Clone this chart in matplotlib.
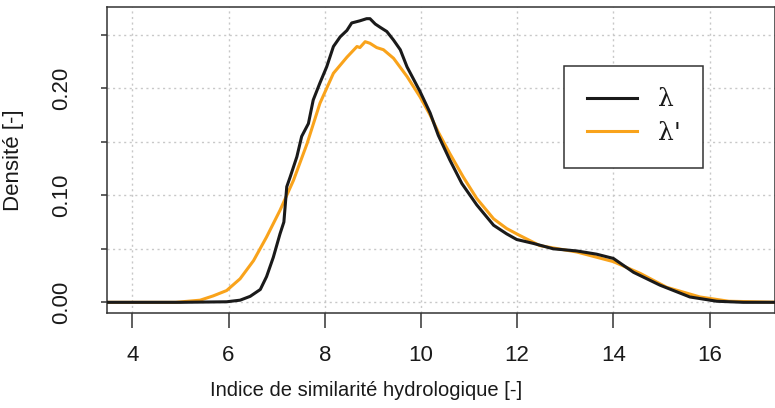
import numpy as np
import matplotlib
import matplotlib.pyplot as plt

matplotlib.use("Agg")

# densité de l'indice lambda
lam_x = [3.4, 5.0, 5.96, 6.24, 6.45, 6.66, 6.79, 6.93, 7.07, 7.15, 7.21, 7.28,
         7.42, 7.52, 7.66, 7.76, 7.90, 8.04, 8.18, 8.32, 8.46, 8.56, 8.73, 8.87,
         8.94, 9.05, 9.15, 9.29, 9.43, 9.57, 9.71, 9.98, 10.19, 10.36, 10.60,
         10.85, 11.16, 11.51, 11.78, 11.99, 12.34, 12.75, 13.24, 13.65, 14.0,
         14.42, 14.97, 15.59, 16.15, 16.7, 17.5]
lam_y = [0, 0, 0.0005, 0.002, 0.0056, 0.012, 0.024, 0.042, 0.064, 0.075, 0.108,
         0.117, 0.136, 0.155, 0.167, 0.189, 0.205, 0.220, 0.239, 0.248, 0.254,
         0.261, 0.263, 0.265, 0.265, 0.260, 0.257, 0.253, 0.245, 0.236, 0.220,
         0.197, 0.177, 0.156, 0.133, 0.111, 0.091, 0.072, 0.064, 0.0587, 0.055,
         0.050, 0.048, 0.045, 0.041, 0.028, 0.016, 0.005, 0.001, 0.0, 0.0]

# densité de lambda'
lamp_x = [3.4, 4.9, 5.41, 5.68, 5.96, 6.24, 6.52, 6.79, 7.07, 7.35, 7.63, 7.90,
          8.18, 8.46, 8.67, 8.73, 8.84, 8.94, 9.08, 9.22, 9.43, 9.71, 9.98,
          10.19, 10.36, 10.60, 10.88, 11.16, 11.51, 11.78, 12.03, 12.47, 13.24,
          14.0, 14.56, 15.11, 15.80, 16.4, 17.5]
lamp_y = [0, 0, 0.002, 0.006, 0.011, 0.022, 0.039, 0.061, 0.086, 0.114, 0.148,
          0.186, 0.214, 0.229, 0.239, 0.238, 0.2435, 0.242, 0.238, 0.236, 0.228,
          0.211, 0.192, 0.175, 0.159, 0.139, 0.117, 0.097, 0.078, 0.069, 0.063,
          0.053, 0.047, 0.038, 0.027, 0.014, 0.005, 0.001, 0]

x_ticks = [4, 6, 8, 10, 12, 14, 16]
y_ticks = [0.0, 0.05, 0.10, 0.15, 0.20, 0.25]
y_labels = ["0.00", "", "0.10", "", "0.20", ""]

plt.rcParams["font.family"] = ["Liberation Sans", "DejaVu Sans"]

fig = plt.figure(figsize=(7.75, 4.08), dpi=100)
ax = fig.add_axes([0.1385, 0.232, 0.8615, 0.7516])

grid_kw = dict(color="#c8c8c8", lw=1.0, linestyle=(0, (1.5, 2.5)), zorder=0)
for xv in x_ticks:
    ax.axvline(xv, **grid_kw)
for yv in y_ticks:
    ax.axhline(yv, **grid_kw)

ax.plot(lam_x, lam_y, color="#1a1a1a", lw=2.2, label="λ", zorder=3)
ax.plot(lamp_x, lamp_y, color="#f9a31b", lw=2.2, label="λ'", zorder=2)

ax.set_xlim(3.48, 17.36)
ax.set_ylim(-0.0103, 0.2762)
ax.set_xticks(x_ticks)
ax.set_yticks(y_ticks)
ax.set_yticklabels(y_labels, rotation=90, va="center")

for sp in ax.spines.values():
    sp.set_color("#333333")
    sp.set_linewidth(1.1)

ax.tick_params(axis="x", length=10.8, width=1.1, color="#333333", pad=12,
               labelsize=16, labelcolor="#1a1a1a")
ax.tick_params(axis="y", length=4.2, width=1.1, color="#333333", pad=21,
               labelsize=16, labelcolor="#1a1a1a")

ax.set_xlabel("Indice de similarité hydrologique [-]", fontsize=14.5,
              color="#1a1a1a")
ax.xaxis.set_label_coords(0.388, -0.222)
ax.set_ylabel("Densité [-]", fontsize=16, color="#1a1a1a")
ax.yaxis.set_label_coords(-0.125, 0.5)

leg = ax.legend(loc="upper left", bbox_to_anchor=(564.3 / 775, 1 - 66 / 408),
                bbox_transform=fig.transFigure, borderaxespad=0,
                prop={"family": "DejaVu Serif", "size": 18},
                handlelength=2.0, handletextpad=0.85, borderpad=0.9,
                labelspacing=0.42, fancybox=False, framealpha=1)
leg.get_frame().set_edgecolor("#333333")
leg.get_frame().set_linewidth(1.1)
for t in leg.get_texts():
    t.set_color("#1a1a1a")

fig.savefig("out.png", dpi=100)
